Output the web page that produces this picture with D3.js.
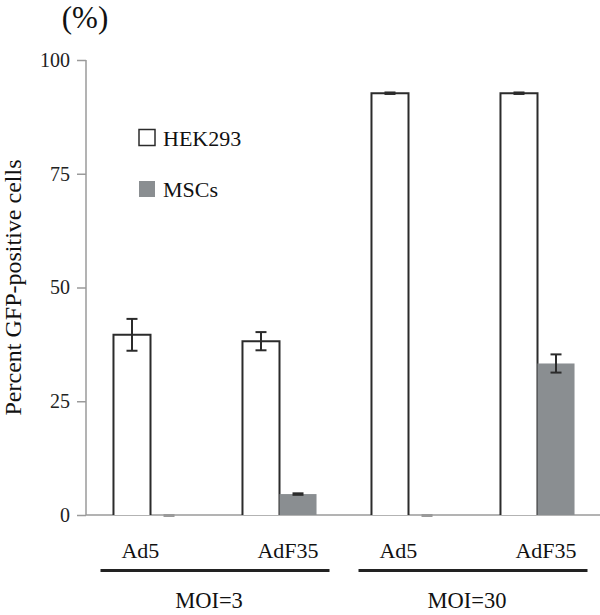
<!DOCTYPE html>
<html lang="en">
<head>
  <meta charset="UTF-8" />
  <title>GFP-positive cells</title>
  <script src="https://d3js.org/d3.v7.min.js"></script>
  <style>
    body { margin: 0; background: #fff; }
    svg { display: block; font-family: "Liberation Serif", "Times New Roman", serif; }
  </style>
</head>
<body>
  <svg id="chart" width="600" height="615"></svg>
  <script>
    // data
    const groups = ["MOI=3", "MOI=30"];
    const vectors = ["Ad5", "AdF35", "Ad5", "AdF35"];
    const vectorGroup = [0, 0, 1, 1];
    const series = ["HEK293", "MSCs"];
    const hekMean = [39.6, 38.2, 92.7, 92.7];
    const hekErr = [3.5, 2.0, 0.3, 0.4];
    const mscMean = [0, 4.6, 0, 33.3];
    const mscErr = [0, 0.3, 0, 2.0];
    const yTicks = [0, 25, 50, 75, 100];

    const svg = d3.select("#chart");
    const axisGray = "#9a9a9a";
    const dark = "#2b2b2b";
    const mscFill = "#8a8e91";

    const y = d3.scaleLinear().domain([0, 100]).range([515, 60]);
    const x = d3.scaleBand().domain(d3.range(vectors.length))
      .range([86, 602]).paddingInner(0.426).paddingOuter(0.213);
    const xs = d3.scaleBand().domain(series).range([0, x.bandwidth()]);

    // y axis
    const yAxis = d3.axisLeft(y).tickValues(yTicks).tickSize(9).tickPadding(7);
    const gy = svg.append("g").attr("transform", "translate(86,0)").call(yAxis)
      .attr("font-family", null).attr("font-size", null);
    gy.select(".domain").attr("stroke", axisGray).attr("stroke-width", 1.5)
      .attr("d", `M0,${y(100)}V${y(0)}`);
    gy.selectAll(".tick line").attr("stroke", axisGray).attr("stroke-width", 1.5);
    gy.selectAll(".tick text").attr("font-size", 20).attr("fill", "#222");

    // x baseline
    svg.append("line")
      .attr("x1", 86).attr("x2", 600).attr("y1", y(0)).attr("y2", y(0))
      .attr("stroke", axisGray).attr("stroke-width", 1.5);

    // bars
    const rows = vectors.map((v, i) => ({
      i, vals: [
        { s: "HEK293", m: hekMean[i], e: hekErr[i] },
        { s: "MSCs", m: mscMean[i], e: mscErr[i] }
      ]
    }));

    rows.forEach(r => {
      r.vals.forEach(d => {
        const x0 = x(r.i) + xs(d.s);
        const w = xs.bandwidth();
        if (d.s === "HEK293") {
          svg.append("path")
            .attr("d", `M${x0},${y(0)}V${y(d.m)}H${x0 + w}V${y(0)}`)
            .attr("fill", "#fff").attr("stroke", dark).attr("stroke-width", 2);
        } else if (d.m > 0) {
          svg.append("rect")
            .attr("x", x0).attr("y", y(d.m))
            .attr("width", w).attr("height", y(0) - y(d.m))
            .attr("fill", mscFill);
        }
        // error bars
        const cx = x0 + w / 2;
        const cap = 5.5;
        if (d.m === 0) {
          svg.append("line")
            .attr("x1", cx - cap).attr("x2", cx + cap)
            .attr("y1", y(0) + 0.5).attr("y2", y(0) + 0.5)
            .attr("stroke", axisGray).attr("stroke-width", 3);
        } else if (d.e < 1) {
          svg.append("line")
            .attr("x1", cx - cap).attr("x2", cx + cap)
            .attr("y1", y(d.m)).attr("y2", y(d.m))
            .attr("stroke", dark).attr("stroke-width", 3.5);
        } else {
          const g = svg.append("g").attr("stroke", dark).attr("stroke-width", 2);
          g.append("line").attr("x1", cx).attr("x2", cx)
            .attr("y1", y(d.m + d.e)).attr("y2", y(d.m - d.e));
          [d.m + d.e, d.m - d.e].forEach(v => {
            g.append("line").attr("x1", cx - cap).attr("x2", cx + cap)
              .attr("y1", y(v)).attr("y2", y(v));
          });
        }
      });
    });

    // category labels
    vectors.forEach((v, i) => {
      const isAd5 = v === "Ad5";
      svg.append("text")
        .attr("x", isAd5 ? x(i) + 8 : x(i) + x.bandwidth() + 2)
        .attr("y", 558)
        .attr("text-anchor", isAd5 ? "start" : "end")
        .attr("font-size", 22).attr("fill", "#111")
        .text(v);
    });

    // group underlines and labels
    groups.forEach((gname, gi) => {
      const idx = d3.range(vectors.length).filter(i => vectorGroup[i] === gi);
      const left = x(d3.min(idx));
      const right = x(d3.max(idx)) + x.bandwidth();
      const c = (left + right) / 2;
      svg.append("line")
        .attr("x1", c - 114.5).attr("x2", c + 114.5)
        .attr("y1", 570.5).attr("y2", 570.5)
        .attr("stroke", "#222").attr("stroke-width", 3);
      svg.append("text")
        .attr("x", c - 6).attr("y", 608)
        .attr("text-anchor", "middle")
        .attr("font-size", 22.5).attr("fill", "#111")
        .text(gname);
    });

    // legend
    const legY = [129.5, 181];
    series.forEach((s, i) => {
      svg.append("rect")
        .attr("x", 139).attr("y", legY[i]).attr("width", 16).attr("height", 16)
        .attr("fill", i === 0 ? "#fff" : mscFill)
        .attr("stroke", i === 0 ? dark : "none").attr("stroke-width", 1.5);
      svg.append("text")
        .attr("x", 163).attr("y", legY[i] + 16)
        .attr("font-size", 22).attr("fill", "#111")
        .text(s);
    });

    // axis titles
    svg.append("text")
      .attr("x", 85).attr("y", 28)
      .attr("text-anchor", "middle")
      .attr("font-size", 31).attr("fill", "#111")
      .text("(%)");

    svg.append("text")
      .attr("transform", "translate(21,287.5) rotate(-90)")
      .attr("text-anchor", "middle")
      .attr("font-size", 24).attr("fill", "#111")
      .text("Percent GFP-positive cells");
  </script>
</body>
</html>
